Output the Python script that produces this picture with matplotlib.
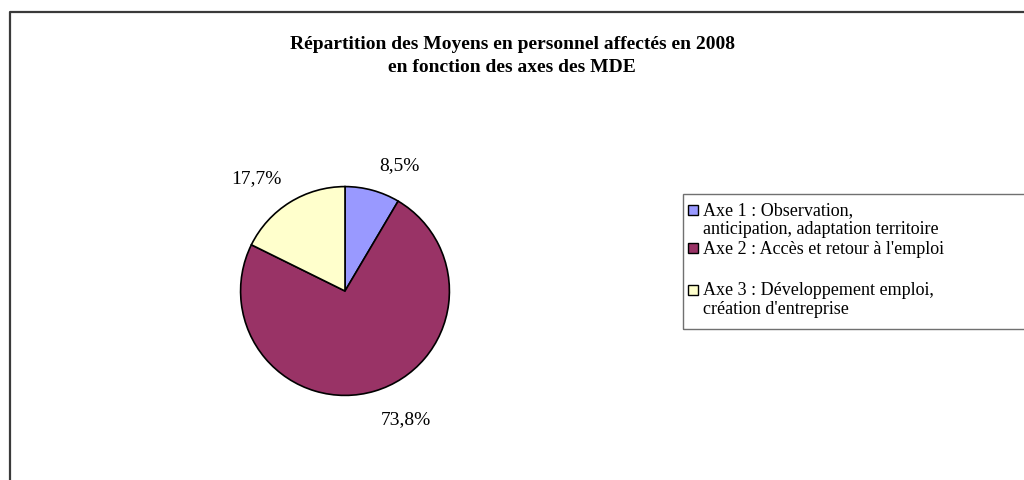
import matplotlib
matplotlib.use("Agg")
import matplotlib.pyplot as plt
import matplotlib.transforms as mtransforms
from matplotlib.patches import Rectangle
from matplotlib.lines import Line2D

# ---- data ----
categories = [
    "Axe 1 : Observation,\nanticipation, adaptation territoire",
    "Axe 2 : Accès et retour à l'emploi",
    "Axe 3 : Développement emploi,\ncréation d'entreprise",
]
values = [8.5, 73.8, 17.7]
colors = ["#9999FF", "#993366", "#FFFFCC"]
title_lines = ["Répartition des Moyens en personnel affectés en 2008",
               "en fonction des axes des MDE"]

W, H = 1024, 481
plt.rcParams['font.family'] = ['Liberation Serif', 'DejaVu Serif']
fig = plt.figure(figsize=(W / 100, H / 100), dpi=100)

def fx(x):
    return x / W

def fy(y):
    return 1 - y / H

# outer chart frame (cropped at right / bottom)
fig.add_artist(Line2D([fx(10), fx(10), fx(1030)], [fy(490), fy(13), fy(13)],
                      transform=fig.transFigure, color="#3a3a3a", lw=1.6))

# title
fig.text(fx(512), fy(45), title_lines[0], ha="center", va="center",
         fontsize=14, fontweight="bold")
fig.text(fx(512), fy(67), title_lines[1], ha="center", va="center",
         fontsize=14, fontweight="bold")

# pie
cx, cy, r = 345, 292, 106.5
ax = fig.add_axes([fx(cx - r), fy(cy + r), 2 * r / W, 2 * r / H])
wedges, texts, autotexts = ax.pie(
    values, colors=colors, startangle=90, counterclock=False,
    radius=1.0,
    wedgeprops=dict(edgecolor="black", linewidth=1.2),
    autopct=lambda p: f"{p:.1f}%".replace(".", ","),
    pctdistance=1.3,
    textprops=dict(fontsize=14))
# Excel-like nudges of the data labels (pixels)
nudges = [(19, -5), (22, 3), (-17, -2)]
for t, (dx, dy) in zip(autotexts, nudges):
    t.set_transform(mtransforms.offset_copy(ax.transData, fig=fig,
                                            x=dx, y=dy, units="dots"))
ax.set_xlim(-1.02, 1.02)
ax.set_ylim(-1.02, 1.02)
ax.set_aspect("equal")
ax.axis("off")

# legend (Excel-like, drawn manually)
fig.add_artist(Rectangle((fx(683), fy(330)), fx(1040) - fx(683), fy(195) - fy(330),
                         transform=fig.transFigure, fill=False,
                         edgecolor="#707070", lw=1.0))
entry_y = [211, 249, 291]
line_gap = 18.5
for lab, col, y0 in zip(categories, colors, entry_y):
    s = 10
    fig.add_artist(Rectangle((fx(688), fy(y0 + s / 2)), s / W, s / H,
                             transform=fig.transFigure, facecolor=col,
                             edgecolor="black", lw=1.0))
    for i, line in enumerate(lab.split("\n")):
        fig.text(fx(703), fy(y0 + i * line_gap), line, ha="left", va="center",
                 fontsize=13)

fig.savefig("out.png", dpi=100)
